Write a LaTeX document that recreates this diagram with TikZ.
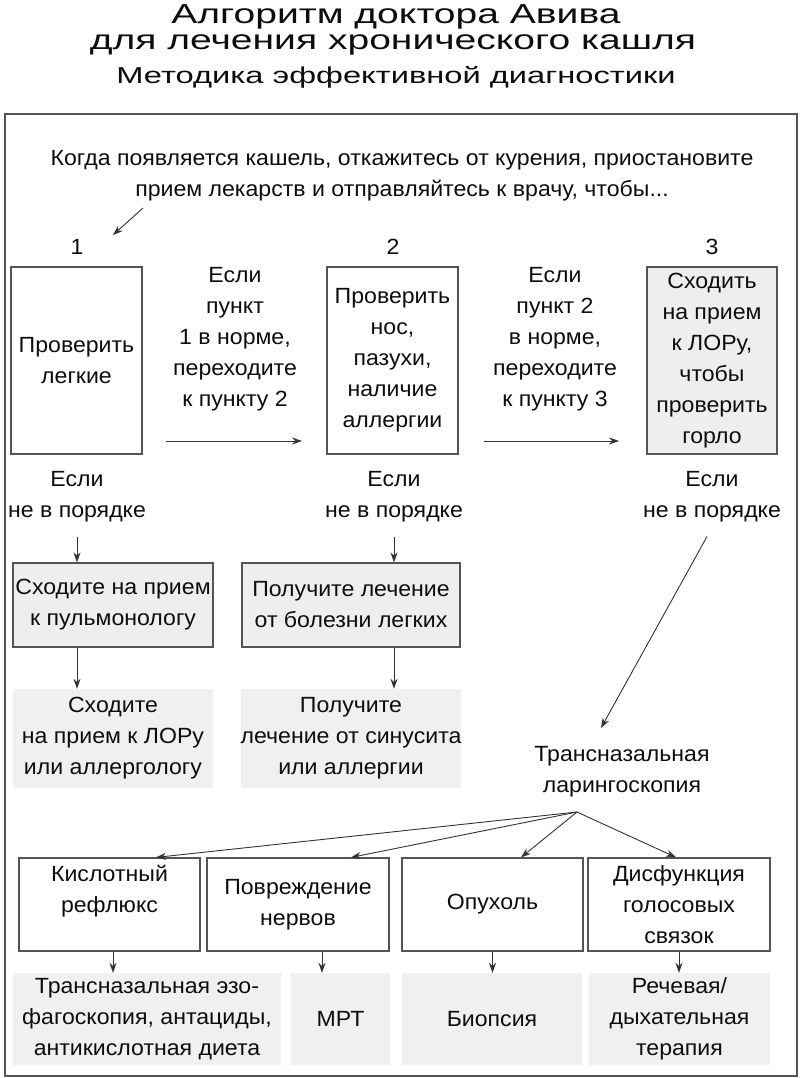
\documentclass[tikz,border=0pt]{standalone}
\usepackage{fontspec}
\setmainfont[FakeStretch=1.05]{Liberation Sans}
\newfontfamily\titlefont[FakeStretch=1.42]{Liberation Sans}
\usetikzlibrary{arrows.meta}
\definecolor{lc}{HTML}{555555}
\definecolor{fillA}{HTML}{EEEEEE}
\definecolor{fillB}{HTML}{F0F0F0}
\begin{document}
\begin{tikzpicture}[x=1pt,y=-1pt,
  txt/.style={align=center, font=\fontsize{22}{31}\selectfont, text=black!95, inner sep=0pt},
  box/.style={txt, draw=lc, line width=1.2pt},
  gbox/.style={box, fill=fillA},
  sbox/.style={txt, fill=fillB},
  arr/.style={-{Stealth[length=10pt,width=7pt]}, line width=0.9pt, draw=black!80},
  ttl/.style={txt, font=\titlefont\fontsize{27.5}{30}\selectfont},
]
\useasboundingbox (0,0) rectangle (800,1078);
\fill[white] (0,0) rectangle (800,1078);

% title
\node[ttl] (t1) at (396,17) {Алгоритм доктора Авива};
\node[ttl] (t2) at (393,45) {для лечения хронического кашля};
\node[ttl, font=\titlefont\fontsize{23}{26}\selectfont] (t3) at (396,77) {Методика эффективной диагностики};

% frame
\draw[lc, line width=1.5pt] (5,114) rectangle (797,1076);

% intro
\node[txt] (intro) at (402,176) {Когда появляется кашель, откажитесь от курения, приостановите\\прием лекарств и отправляйтесь к врачу, чтобы...};
\node[txt] (num1) at (77,247) {1};
\node[txt] (num2) at (393,247) {2};
\node[txt] (num3) at (712,247) {3};
\coordinate (a0) at (143,208);
\coordinate (a1) at (113,235);
\draw[arr] (a0) -- (a1);

% top row
\node[box, minimum width=131pt, minimum height=187pt] (b1) at (76.5,360.5) {Проверить\\легкие};
\node[box, minimum width=131pt, minimum height=187pt] (b2) at (392.5,360.5) {Проверить\\нос,\\пазухи,\\наличие\\аллергии};
\node[gbox, minimum width=130pt, minimum height=187pt] (b3) at (712,360.5) {Сходить\\на прием\\к ЛОРу,\\чтобы\\проверить\\горло};

\node[txt] (c1) at (235,339.5) {Если\\пункт\\1 в норме,\\переходите\\к пункту 2};
\node[txt] (c2) at (555,339.5) {Если\\пункт 2\\в норме,\\переходите\\к пункту 3};
\coordinate (h1s) at (166,441);
\coordinate (h1e) at (302,441);
\coordinate (h2s) at (484,441);
\coordinate (h2e) at (619,441);
\draw[arr] (h1s) -- (h1e);
\draw[arr] (h2s) -- (h2e);

\node[txt] (n1) at (77,497) {Если\\не в порядке};
\node[txt] (n2) at (394,497) {Если\\не в порядке};
\node[txt] (n3) at (712,497) {Если\\не в порядке};

% second row
\node[gbox, minimum width=200pt, minimum height=84pt] (p1) at (113,605) {Сходите на прием\\к пульмонологу};
\node[gbox, minimum width=218pt, minimum height=84pt] (p2) at (351,605) {Получите лечение\\от болезни легких};
\draw[arr] ([yshift=-14pt]n1.south) -- (n1.south |- p1.north);
\draw[arr] ([yshift=-14pt]n2.south) -- (n2.south |- p2.north);

\node[sbox, minimum width=200pt, minimum height=99pt] (s1) at (113,738.5) {Сходите\\на прием к ЛОРу\\или аллергологу};
\node[sbox, minimum width=218pt, minimum height=99pt] (s2) at (351,738.5) {Получите\\лечение от синусита\\или аллергии};
\draw[arr] (p1.south -| n1.south) -- (n1.south |- s1.north);
\draw[arr] (p2.south -| n2.south) -- (n2.south |- s2.north);

% laryngoscopy
\node[txt] (tl) at (622,771.5) {Трансназальная\\ларингоскопия};
\coordinate (tlin) at (601,728);
\draw[arr] ([xshift=-5pt,yshift=-14pt]n3.south) -- (tlin);

% diagnoses row
\node[box, minimum width=181pt, minimum height=93pt] (d1) at (109.5,904.5) {Кислотный\\рефлюкс\\\mbox{}};
\node[box, minimum width=182pt, minimum height=93pt] (d2) at (298,904.5) {Повреждение\\нервов};
\node[box, minimum width=181pt, minimum height=93pt] (d3) at (492.5,904.5) {Опухоль};
\node[box, minimum width=182pt, minimum height=93pt] (d4) at (679,904.5) {Дисфункция\\голосовых\\связок};

\coordinate (fan) at (577,812);
\draw[arr] (fan) -- ([xshift=46.5pt]d1.north);
\draw[arr] (fan) -- ([xshift=53pt]d2.north);
\draw[arr] (fan) -- ([xshift=28.5pt]d3.north);
\draw[arr] (fan) -- ([xshift=-3pt]d4.north);

% treatments row
\node[sbox, minimum width=268pt, minimum height=92pt] (e1) at (147,1019) {Трансназальная эзо-\\фагоскопия, антациды,\\антикислотная диета};
\node[sbox, minimum width=99pt, minimum height=92pt] (e2) at (340.5,1019) {МРТ};
\node[sbox, minimum width=180pt, minimum height=92pt] (e3) at (492,1019) {Биопсия};
\node[sbox, minimum width=181pt, minimum height=92pt] (e4) at (679.5,1019) {Речевая/\\дыхательная\\терапия};

\draw[arr] ([xshift=3.5pt]d1.south) -- ([xshift=3.5pt]d1.south |- e1.north);
\draw[arr] ([xshift=24pt]d2.south) -- ([xshift=24pt]d2.south |- e2.north);
\draw[arr] (d3.south) -- (d3.south |- e3.north);
\draw[arr] (d4.south) -- (d4.south |- e4.north);
\end{tikzpicture}
\end{document}
